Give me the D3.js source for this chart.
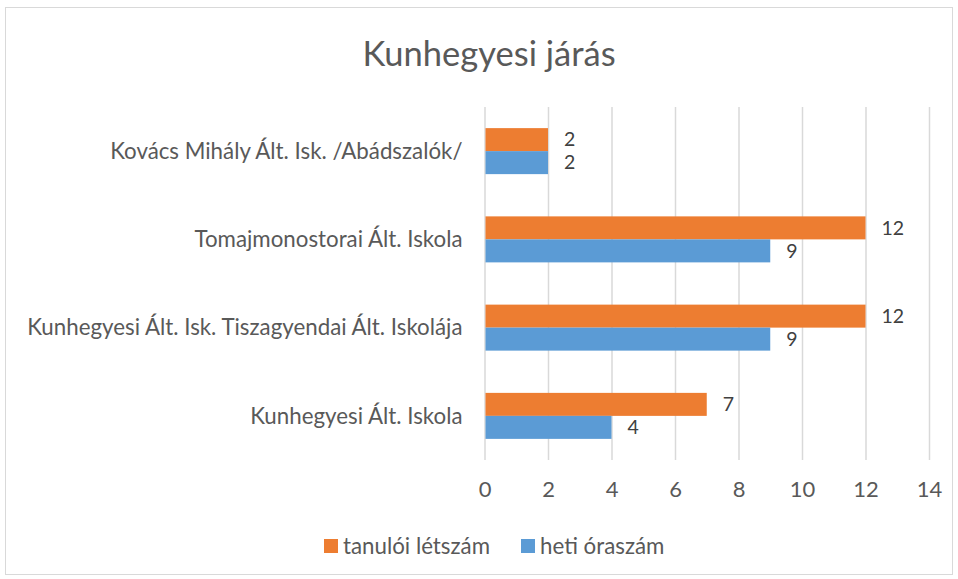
<!DOCTYPE html>
<html>
<head>
<meta charset="utf-8">
<script src="https://cdn.jsdelivr.net/npm/d3@7"></script>
<style>
  body { margin: 0; background: #fff; }
  text { font-family: Lato, "Open Sans", sans-serif; }
</style>
</head>
<body>
<div id="chart"></div>
<script>
//// DATA ////
var schools = [
  "Kovács Mihály Ált. Isk. /Abádszalók/",
  "Tomajmonostorai Ált. Iskola",
  "Kunhegyesi Ált. Isk. Tiszagyendai Ált. Iskolája",
  "Kunhegyesi Ált. Iskola"
];
var tanuloiLetszam = [2, 12, 12, 7];
var hetiOraszam = [2, 9, 9, 4];
var seriesNames = ["tanulói létszám", "heti óraszám"];
var xTicks = [0, 2, 4, 6, 8, 10, 12, 14];

//// SET UP ////
var svgWidth = 958;
var svgHeight = 579;

var margin = { top: 107, right: 29, bottom: 119, left: 484.5 };
var width = svgWidth - margin.left - margin.right;
var height = svgHeight - margin.top - margin.bottom;

var colors = ["#ED7D31", "#5B9BD5"];

var svg = d3.select("#chart")
  .append("svg")
  .attr("width", svgWidth)
  .attr("height", svgHeight);

// chart border
svg.append("rect")
  .attr("x", 5.5)
  .attr("y", 7.5)
  .attr("width", 947)
  .attr("height", 567)
  .attr("fill", "#fff")
  .attr("stroke", "#D9D9D9");

// title
svg.append("text")
  .attr("x", 489)
  .attr("y", 66)
  .attr("text-anchor", "middle")
  .attr("font-size", 34.5)
  .attr("fill", "#595959")
  .text("Kunhegyesi járás");

var chartGroup = svg.append("g")
  .attr("transform", `translate(${margin.left}, ${margin.top})`);

var xScale = d3.scaleLinear()
  .domain([0, 14])
  .range([0, width]);

var yScale = d3.scaleBand()
  .domain(schools)
  .range([0, height]);

var innerScale = d3.scaleBand()
  .domain([0, 1])
  .range([yScale.bandwidth() / 2 - 23, yScale.bandwidth() / 2 + 23]);

// gridlines + tick marks
var bottomAxis = d3.axisBottom(xScale)
  .tickValues(xTicks)
  .tickSize(height)
  .tickPadding(21);

var xAxis = chartGroup.append("g")
  .call(bottomAxis);

xAxis.select(".domain").remove();
xAxis.selectAll(".tick line")
  .attr("stroke", "#D9D9D9")
  .attr("stroke-width", 1.5);
xAxis.selectAll(".tick text")
  .attr("font-size", 22)
  .attr("fill", "#595959")
  .attr("font-family", "Lato, 'Open Sans', sans-serif");

// category labels
chartGroup.selectAll(".catLabel")
  .data(schools)
  .enter()
  .append("text")
  .attr("class", "catLabel")
  .attr("x", -22)
  .attr("y", d => yScale(d) + yScale.bandwidth() / 2)
  .attr("dy", "0.35em")
  .attr("text-anchor", "end")
  .attr("font-size", 22.3)
  .attr("fill", "#595959")
  .text(d => d);

// bars
var allSeries = [tanuloiLetszam, hetiOraszam];
allSeries.forEach(function(values, si) {
  var rows = schools.map((s, i) => ({ school: s, value: values[i] }));

  chartGroup.selectAll(null)
    .data(rows)
    .enter()
    .append("rect")
    .attr("x", xScale(0) + 1)
    .attr("y", d => yScale(d.school) + innerScale(si))
    .attr("width", d => xScale(d.value) - xScale(0) - 1)
    .attr("height", innerScale.bandwidth())
    .attr("fill", colors[si]);

  // value labels
  chartGroup.selectAll(null)
    .data(rows)
    .enter()
    .append("text")
    .attr("x", d => xScale(d.value) + 16)
    .attr("y", d => yScale(d.school) + innerScale(si) + innerScale.bandwidth() / 2)
    .attr("dy", "0.35em")
    .attr("font-size", 19.5)
    .attr("fill", "#404040")
    .text(d => d.value);
});

// legend
var legendItems = [
  { name: seriesNames[0], color: colors[0], x: 324 },
  { name: seriesNames[1], color: colors[1], x: 521 }
];
var legend = svg.append("g");
legendItems.forEach(function(item) {
  legend.append("rect")
    .attr("x", item.x)
    .attr("y", 539)
    .attr("width", 14)
    .attr("height", 14)
    .attr("fill", item.color);
  legend.append("text")
    .attr("x", item.x + 19)
    .attr("y", 546)
    .attr("dy", "0.35em")
    .attr("font-size", 22.3)
    .attr("fill", "#595959")
    .text(item.name);
});
</script>
</body>
</html>
